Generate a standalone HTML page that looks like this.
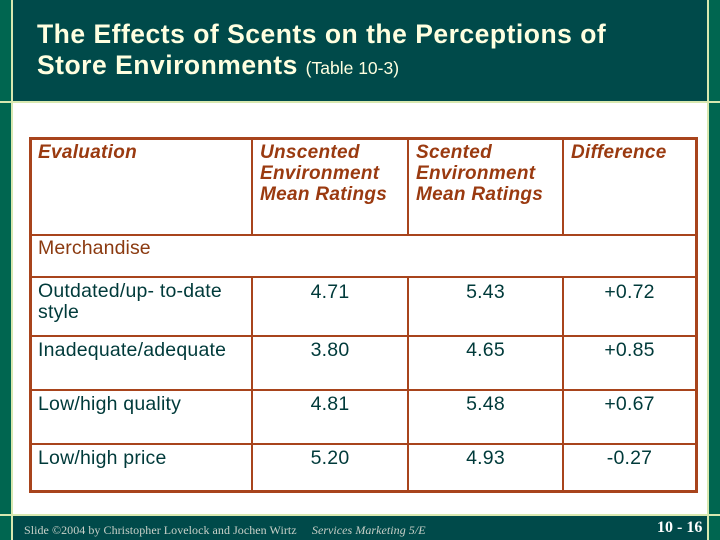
<html><head><style>
body{margin:0;width:720px;height:540px;position:relative;background:#fff;font-family:"Liberation Sans",sans-serif;overflow:hidden}
.a{position:absolute}
.t{color:#8B3A10;font-size:19.5px;letter-spacing:0.1px}
.h{font-style:italic;font-weight:bold;font-size:19px;color:#9A3A10;line-height:21px;letter-spacing:0.3px}
.c{color:#003a3a;font-size:19.5px;letter-spacing:0.2px}
.b{position:absolute;background:#A8441C}
</style></head><body>
<div class="a" style="left:0;top:0;width:720px;height:540px;background:#fff"></div>
<div class="a" style="left:0;top:0;width:720px;height:101px;background:#004a4a"></div>
<div class="a" style="left:0;top:516px;width:720px;height:24px;background:#004a4a"></div>
<div class="a" style="left:0;top:0;width:11px;height:540px;background:#006650"></div>
<div class="a" style="left:709px;top:0;width:11px;height:540px;background:#006650"></div>
<div class="a" style="left:11px;top:0;width:2px;height:540px;background:#d8e8b0"></div>
<div class="a" style="left:707px;top:0;width:2px;height:540px;background:#d8e8b0"></div>
<div class="a" style="left:0;top:101px;width:720px;height:2px;background:#d8e8b0"></div>
<div class="a" style="left:0;top:514px;width:720px;height:2px;background:#d8e8b0"></div>
<div class="a" style="left:37px;top:19px;color:#ffffe0;font-size:26.5px;font-weight:bold;line-height:31px;letter-spacing:0.5px">The Effects of Scents on the Perceptions of<br>Store Environments <span style="font-size:17.5px;font-weight:normal;letter-spacing:0">(Table 10-3)</span></div>
<div class="a" style="left:24px;top:523px;color:#c8d0c8;font-family:'Liberation Serif',serif;font-size:12px;letter-spacing:0.05px">Slide ©2004 by Christopher Lovelock and Jochen Wirtz &nbsp;&nbsp;&nbsp;&nbsp;<i>Services Marketing 5/E</i></div>
<div class="a" style="left:657px;top:519px;color:#fff;font-family:'Liberation Serif',serif;font-size:16px;font-weight:bold">10 - 16</div>
<div class="b" style="left:29px;top:137px;width:669px;height:3px"></div>
<div class="b" style="left:29px;top:490px;width:669px;height:3px"></div>
<div class="b" style="left:29px;top:137px;width:3px;height:356px"></div>
<div class="b" style="left:695px;top:137px;width:3px;height:356px"></div>
<div class="b" style="left:29px;top:234px;width:669px;height:2px"></div>
<div class="b" style="left:29px;top:276px;width:669px;height:2px"></div>
<div class="b" style="left:29px;top:335px;width:669px;height:2px"></div>
<div class="b" style="left:29px;top:389px;width:669px;height:2px"></div>
<div class="b" style="left:29px;top:443px;width:669px;height:2px"></div>
<div class="b" style="left:251px;top:137px;width:2px;height:99px"></div>
<div class="b" style="left:407px;top:137px;width:2px;height:99px"></div>
<div class="b" style="left:562px;top:137px;width:2px;height:99px"></div>
<div class="b" style="left:251px;top:276px;width:2px;height:216px"></div>
<div class="b" style="left:407px;top:276px;width:2px;height:216px"></div>
<div class="b" style="left:562px;top:276px;width:2px;height:216px"></div>
<div class="a h" style="left:38px;top:142px">Evaluation</div>
<div class="a h" style="left:260px;top:142px">Unscented<br>Environment<br>Mean Ratings</div>
<div class="a h" style="left:416px;top:142px">Scented<br>Environment<br>Mean Ratings</div>
<div class="a h" style="left:571px;top:142px">Difference</div>
<div class="a t" style="left:38px;top:237px">Merchandise</div>
<div class="a c" style="left:38px;top:281px;line-height:21px">Outdated/up- to-date<br>style</div>
<div class="a c" style="left:38px;top:339px">Inadequate/adequate</div>
<div class="a c" style="left:38px;top:393px">Low/high quality</div>
<div class="a c" style="left:38px;top:447px">Low/high price</div>
<div class="a c" style="left:253px;width:154px;text-align:center;top:281px">4.71</div>
<div class="a c" style="left:409px;width:153px;text-align:center;top:281px">5.43</div>
<div class="a c" style="left:564px;width:131px;text-align:center;top:281px">+0.72</div>
<div class="a c" style="left:253px;width:154px;text-align:center;top:339px">3.80</div>
<div class="a c" style="left:409px;width:153px;text-align:center;top:339px">4.65</div>
<div class="a c" style="left:564px;width:131px;text-align:center;top:339px">+0.85</div>
<div class="a c" style="left:253px;width:154px;text-align:center;top:393px">4.81</div>
<div class="a c" style="left:409px;width:153px;text-align:center;top:393px">5.48</div>
<div class="a c" style="left:564px;width:131px;text-align:center;top:393px">+0.67</div>
<div class="a c" style="left:253px;width:154px;text-align:center;top:447px">5.20</div>
<div class="a c" style="left:409px;width:153px;text-align:center;top:447px">4.93</div>
<div class="a c" style="left:564px;width:131px;text-align:center;top:447px">-0.27</div>
</body></html>
